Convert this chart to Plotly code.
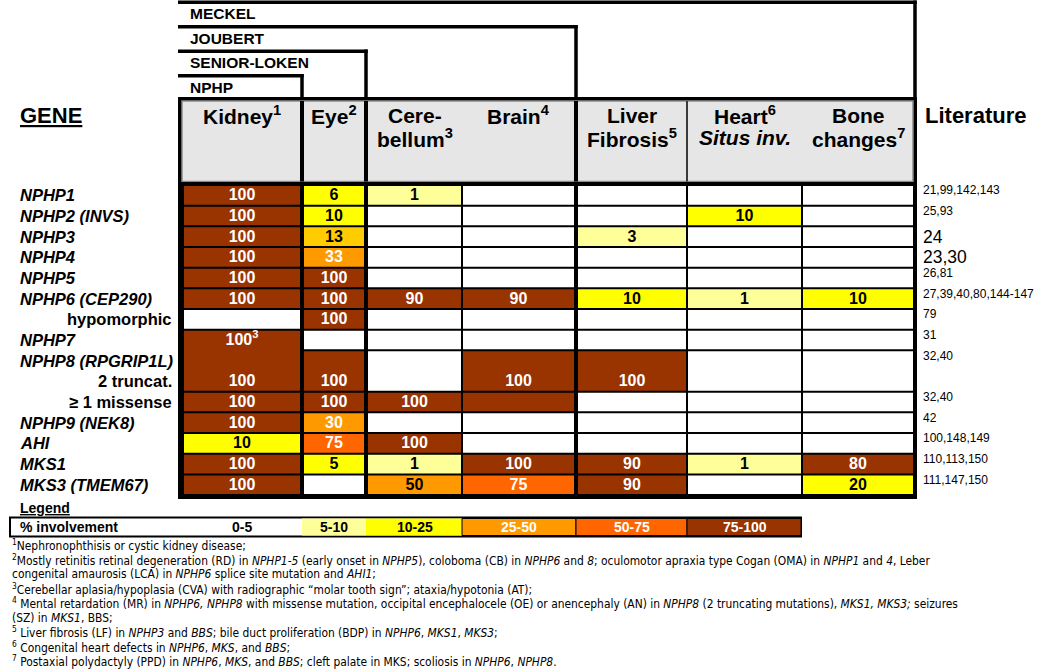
import plotly.graph_objects as go

# ---------------- data ----------------
COLUMNS = ["Kidney", "Eye", "Cerebellum", "Brain", "Liver", "Heart", "Bone"]
HEADER_TOP = ["Kidney<sup>1</sup>", "Eye<sup>2</sup>", "Cere-", "Brain<sup>4</sup>",
              "Liver", "Heart<sup>6</sup>", "Bone"]
HEADER_BOTTOM = ["", "", "bellum<sup>3</sup>", "", "Fibrosis<sup>5</sup>",
                 "<i>Situs inv.</i>", "changes<sup>7</sup>"]
DISEASES = ["NPHP", "SENIOR-LOKEN", "JOUBERT", "MECKEL"]
DISEASE_LAST_COL = [0, 1, 3, 6]

GENES = ["NPHP1", "NPHP2 (INVS)", "NPHP3", "NPHP4", "NPHP5", "NPHP6 (CEP290)",
         "hypomorphic", "NPHP7", "NPHP8 (RPGRIP1L)", "2 truncat.", "≥ 1 missense",
         "NPHP9 (NEK8)", "AHI", "MKS1", "MKS3 (TMEM67)"]
SUBROWS = [6, 9, 10]

KIDNEY = ["100", "100", "100", "100", "100", "100", "", "100<sup>3</sup>", "", "100", "100", "100", "10", "100", "100"]
EYE = ["6", "10", "13", "33", "100", "100", "100", "", "", "100", "100", "30", "75", "5", ""]
CEREBELLUM = ["1", "", "", "", "", "90", "", "", "", "", "100", "", "100", "1", "50"]
BRAIN = ["", "", "", "", "", "90", "", "", "", "100", "", "", "", "100", "75"]
LIVER = ["", "", "3", "", "", "10", "", "", "", "100", "", "", "", "90", "90"]
HEART = ["", "10", "", "", "", "1", "", "", "", "", "", "", "", "1", ""]
BONE = ["", "", "", "", "", "10", "", "", "", "", "", "", "", "80", "20"]

# colour class of every cell (b brown, r red-orange, o/O orange, g gold, y yellow, l light yellow, w white)
KIDNEY_FILL = "bbbbbbwbbbbbybb"
EYE_FILL = "yygobbbwbbboryw"
CEREBELLUM_FILL = "lwwwwbwwwwbwblO"
BRAIN_FILL = "wwwwwbwwbbbwwbr"
LIVER_FILL = "wwlwwywwbbwwwbb"
HEART_FILL = "wywwwlwwwwwwwlw"
BONE_FILL = "wwwwwywwwwwwwby"

# merged cells: (column, first row, last row)
MERGES = [(0, 7, 9), (1, 8, 9), (2, 8, 9), (3, 8, 9), (4, 8, 9), (5, 8, 9), (6, 8, 9)]

LITERATURE = ["21,99,142,143", "25,93", "24", "23,30", "26,81", "27,39,40,80,144-147", "79", "31",
              "32,40", "", "32,40", "42", "100,148,149", "110,113,150", "111,147,150"]
LIT_LARGE = [2, 3]

LEGEND_LABELS = ["0-5", "5-10", "10-25", "25-50", "50-75", "75-100"]
LEGEND_FILL = "wlyorb"

FOOTNOTES = [
    "<sup>1</sup>Nephronophthisis or cystic kidney disease;",
    "<sup>2</sup>Mostly retinitis retinal degeneration (RD) in <i>NPHP1-5</i> (early onset in <i>NPHP5</i>), coloboma (CB) in <i>NPHP6</i> and <i>8</i>; oculomotor apraxia type Cogan (OMA) in <i>NPHP1</i> and <i>4</i>, Leber",
    "congenital amaurosis (LCA) in <i>NPHP6</i> splice site mutation and <i>AHI1</i>;",
    "<sup>3</sup>Cerebellar aplasia/hypoplasia (CVA) with radiographic “molar tooth sign”; ataxia/hypotonia (AT);",
    "<sup>4</sup> Mental retardation (MR) in <i>NPHP6, NPHP8</i> with missense mutation, occipital encephalocele (OE) or anencephaly (AN) in <i>NPHP8</i> (2 truncating mutations), <i>MKS1, MKS3;</i> seizures",
    "(SZ) in <i>MKS1</i>, BBS;",
    "<sup>5</sup> Liver fibrosis (LF) in <i>NPHP3</i> and <i>BBS</i>; bile duct proliferation (BDP) in <i>NPHP6</i>, <i>MKS1</i>, <i>MKS3</i>;",
    "<sup>6</sup> Congenital heart defects in <i>NPHP6</i>, <i>MKS</i>, and <i>BBS</i>;",
    "<sup>7</sup> Postaxial polydactyly (PPD) in <i>NPHP6</i>, <i>MKS</i>, and <i>BBS</i>; cleft palate in MKS; scoliosis in <i>NPHP6</i>, <i>NPHP8</i>.",
]

# ---------------- styles / layout constants ----------------
FILL_COLORS = {"b": "#993300", "r": "#ff6600", "o": "#ff9900", "O": "#ff9900", "g": "#ffcc00",
               "y": "#ffff00", "l": "#ffff99", "w": "#ffffff"}
INK = {"b": "white", "r": "white", "o": "white", "O": "black", "g": "black",
       "y": "black", "l": "black", "w": "black"}
FONT = "Arial, Liberation Sans, Helvetica, sans-serif"
NARROW = "Liberation Sans Narrow, Arial Narrow, DejaVu Sans Condensed, sans-serif"

X0 = [184, 304, 368, 463, 578, 688, 803]
X1 = [300, 364, 461, 574, 686, 801, 913]
TABLE_L, TABLE_R = 178, 917
HEAD_T, HEAD_B = 97, 185
ROW_Y0, ROW_H = 185, 20.67
N_ROWS = len(GENES)
TABLE_B = 499
BRACKET_Y = [75.75, 51.25, 26.75, 2.25]
LW = 3.5

cols_vals = [KIDNEY, EYE, CEREBELLUM, BRAIN, LIVER, HEART, BONE]
cols_fill = [KIDNEY_FILL, EYE_FILL, CEREBELLUM_FILL, BRAIN_FILL, LIVER_FILL, HEART_FILL, BONE_FILL]


def row_top(r):
    return ROW_Y0 + r * ROW_H + 1


def row_bot(r):
    return ROW_Y0 + (r + 1) * ROW_H - 1


def row_mid(r):
    return ROW_Y0 + (r + 0.5) * ROW_H


def divider(j):
    return (X1[j] + X0[j + 1]) / 2 if j + 1 < len(X0) else (X1[j] + TABLE_R) / 2


def xc(j):
    return (X0[j] + X1[j]) / 2


shapes = []
annotations = []


def rect(x0, y0, x1, y1, fill, line_color=None, line_width=0):
    shapes.append(dict(type="rect", xref="x", yref="y", x0=x0, x1=x1, y0=y0, y1=y1,
                       fillcolor=fill, line=dict(color=line_color or fill, width=line_width),
                       layer="below"))


def line(x0, y0, x1, y1, color="black", width=LW):
    shapes.append(dict(type="line", xref="x", yref="y", x0=x0, x1=x1, y0=y0, y1=y1,
                       line=dict(color=color, width=width), layer="below"))


def text(x, y, s, size, color="black", xanchor="center", family=FONT):
    annotations.append(dict(x=x, y=y, xref="x", yref="y", text=s, showarrow=False,
                            xanchor=xanchor, yanchor="middle",
                            font=dict(family=family, size=size, color=color)))


# ---- disease brackets ----
for name, last, yl in zip(DISEASES, DISEASE_LAST_COL, BRACKET_Y):
    vx = divider(last)
    line(TABLE_L, yl, vx + LW / 2, yl)
    line(vx, yl - LW / 2, vx, HEAD_T + 2)
    text(188, yl + 11.5, "<b>%s</b>" % name, 15.5, xanchor="left")

# ---- header box ----
rect(TABLE_L, HEAD_T, TABLE_R, HEAD_B, "black")
rect(TABLE_L + 4, HEAD_T + 4, TABLE_R - 4, HEAD_B - 3.5, "#e6e6e6", "#8c8c8c", 1.5)
for j in [0, 1, 3]:
    rect(X1[j], HEAD_T + 4, X0[j + 1], HEAD_B - 3.5, "black")
line(divider(4), HEAD_T + 4, divider(4), HEAD_B - 3.5, "#3a3a3a", 2)
for j in range(len(COLUMNS)):
    text(xc(j), 115, "<b>%s</b>" % HEADER_TOP[j], 21)
    if HEADER_BOTTOM[j]:
        text(xc(j), 137.5, "<b>%s</b>" % HEADER_BOTTOM[j], 21)

text(18, 115, "<b><u>GENE</u></b>", 22, xanchor="left")
text(923, 115, "<b>Literature</b>", 22, xanchor="left")

# ---- data table ----
rect(TABLE_L, HEAD_B - 3, TABLE_R, TABLE_B, "black")
merged_start = {}
merged_skip = set()
for c, a, b in MERGES:
    merged_start[(c, a)] = b
    for r in range(a + 1, b + 1):
        merged_skip.add((c, r))

cell_x, cell_y, cell_t, cell_c = [], [], [], []
for c in range(len(COLUMNS)):
    for r in range(N_ROWS):
        code = cols_fill[c][r]
        if (c, r) not in merged_skip:
            last = merged_start.get((c, r), r)
            rect(X0[c], row_top(r), X1[c], row_bot(last), FILL_COLORS[code])
        v = cols_vals[c][r]
        if v:
            cell_x.append(xc(c))
            cell_y.append(row_mid(r) + 1)
            cell_t.append("<b>%s</b>" % v)
            cell_c.append(INK[code])

# ---- row labels & literature ----
for r, g in enumerate(GENES):
    if r in SUBROWS:
        text(174, row_mid(r), "<b>%s</b>" % g, 16.5, xanchor="right")
    else:
        text(18, row_mid(r), "<b><i>%s</i></b>" % g, 16.5, xanchor="left")
    lit = LITERATURE[r]
    if lit:
        if r in LIT_LARGE:
            text(921, row_mid(r), lit, 17.5, xanchor="left")
        else:
            text(921, row_mid(r) - 5, lit, 12, xanchor="left")

# ---- legend ----
text(18, 508, "<b><u>Legend</u></b>", 14, xanchor="left")
rect(10, 517.5, 801, 536.5, "white", "black", 2)
text(18, 527, "<b>% involvement</b>", 14, xanchor="left")
for j, (lab, code) in enumerate(zip(LEGEND_LABELS, LEGEND_FILL)):
    lx0 = divider(j - 1) if j > 0 else X0[0]
    lx1 = min(divider(j), 801)
    if code != "w":
        outline = "black" if code in "orb" else None
        rect(lx0, 518.5, lx1, 535.5, FILL_COLORS[code], outline, 1 if outline else 0)
    text(xc(j), 527, "<b>%s</b>" % lab, 14, INK[code])

# ---- footnotes ----
for k, fn in enumerate(FOOTNOTES):
    text(10, 545 + k * 14.5, fn, 11.9, xanchor="left", family=NARROW)

fig = go.Figure()
fig.add_trace(go.Scatter(x=cell_x, y=cell_y, text=cell_t, mode="text",
                         textposition="middle center",
                         textfont=dict(family=FONT, size=16, color=cell_c),
                         hoverinfo="skip", showlegend=False))
fig.update_layout(
    width=1050, height=670, margin=dict(l=0, r=0, t=0, b=0),
    paper_bgcolor="white", plot_bgcolor="white",
    xaxis=dict(range=[0, 1050], visible=False, fixedrange=True),
    yaxis=dict(range=[670, 0], visible=False, fixedrange=True),
    shapes=shapes, annotations=annotations, hovermode=False, showlegend=False,
)
fig.write_html("out.html", config={"displayModeBar": False},
               post_script="document.body.style.margin='0';document.body.style.overflow='hidden';")
